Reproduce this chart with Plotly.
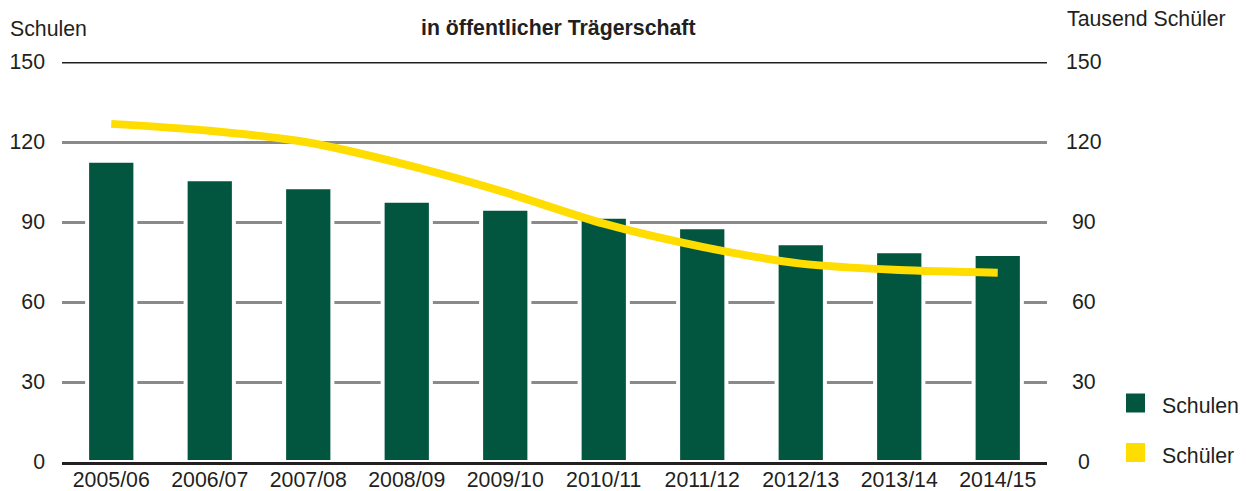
import plotly.graph_objects as go

categories = ["2005/06", "2006/07", "2007/08", "2008/09", "2009/10",
              "2010/11", "2011/12", "2012/13", "2013/14", "2014/15"]
schulen = [113, 106, 103, 98, 95, 92, 88, 82, 79, 78]
schueler = [126.8, 124.2, 119.8, 111.4, 101.1, 89.4, 80.7, 74.4, 72.0, 71.0]
y_ticks = [0, 30, 60, 90, 120, 150]
y_ticktext = ["0", "30", "60", "90", "120", "150"]

GREEN = "#02563F"
YELLOW = "#FFDD00"
TXT = "#231F20"
FONT = "Liberation Sans, Arial, sans-serif"
FS = 21.3

W, H = 1246, 491
L, R, T, B = 62, 199, 62, 29
plot_w = W - L - R
plot_h = H - T - B

fig = go.Figure()
fig.add_trace(go.Bar(
    x=categories, y=schulen, name="Schulen",
    marker=dict(color=GREEN, line=dict(color="white", width=4)),
    width=0.49, showlegend=False, hoverinfo="skip"))
fig.add_trace(go.Scatter(
    x=categories, y=schueler, name="Schüler", yaxis="y2", mode="lines",
    line=dict(color=YELLOW, width=8, shape="spline", smoothing=0.8),
    showlegend=False, hoverinfo="skip"))

fig.update_layout(
    width=W, height=H,
    margin=dict(l=L, r=R, t=T, b=B, autoexpand=False),
    paper_bgcolor="white", plot_bgcolor="white",
    font=dict(family=FONT, size=FS, color=TXT),
    xaxis=dict(showline=True, linecolor=TXT, linewidth=3, ticks="",
               showgrid=False, tickfont=dict(size=FS, color=TXT),
               ticklabelstandoff=-4,
               layer="above traces", automargin=False),
    yaxis=dict(range=[0, 150], tickvals=y_ticks, ticktext=y_ticktext,
               showgrid=True, gridcolor="#8A8A8A", gridwidth=2.5,
               zeroline=False, showline=False, ticks="", automargin=False,
               ticklabelstandoff=16, tickfont=dict(size=FS, color=TXT)),
    yaxis2=dict(range=[0, 150], overlaying="y", side="right",
                tickvals=y_ticks, showticklabels=False, showgrid=False,
                zeroline=False, showline=False, ticks="", automargin=False),
)


def px_x(px):
    return (px - L) / plot_w


def px_y(py):
    return (H - B - py) / plot_h


# top black line at 150
fig.add_shape(type="line", xref="paper", yref="y", x0=0, x1=1, y0=150, y1=150,
              line=dict(color=TXT, width=3), layer="above")

# right axis labels (centered)
for v, t in zip(y_ticks, y_ticktext):
    fig.add_annotation(x=px_x(1084), xref="paper", y=v, yref="y2",
                       text=t, showarrow=False, xanchor="center", yanchor="middle",
                       font=dict(size=FS, color=TXT))

fig.add_annotation(x=px_x(8), y=px_y(29), xref="paper", yref="paper",
                   text="Schulen", showarrow=False, xanchor="left", yanchor="middle",
                   font=dict(size=FS, color=TXT))
fig.add_annotation(x=px_x(1228), y=px_y(19), xref="paper", yref="paper",
                   text="Tausend Schüler", showarrow=False, xanchor="right", yanchor="middle",
                   font=dict(size=FS, color=TXT))
fig.add_annotation(x=px_x(558), y=px_y(28), xref="paper", yref="paper",
                   text="<b>in öffentlicher Trägerschaft</b>", showarrow=False,
                   xanchor="center", yanchor="middle", font=dict(size=FS, color=TXT))

# custom legend
for name, col, cy in [("Schulen", GREEN, 403), ("Schüler", YELLOW, 452.5)]:
    fig.add_shape(type="rect", xref="paper", yref="paper",
                  x0=px_x(1126), x1=px_x(1145), y0=px_y(cy - 9.5), y1=px_y(cy + 9.5),
                  fillcolor=col, line=dict(width=0))
    fig.add_annotation(x=px_x(1160), y=px_y(cy + 3), xref="paper", yref="paper",
                       text=name, showarrow=False, xanchor="left", yanchor="middle",
                       font=dict(size=FS, color=TXT))

fig.write_html("out.html", config={"displayModeBar": False},
               post_script="document.body.style.margin='0';document.body.style.padding='0';")
